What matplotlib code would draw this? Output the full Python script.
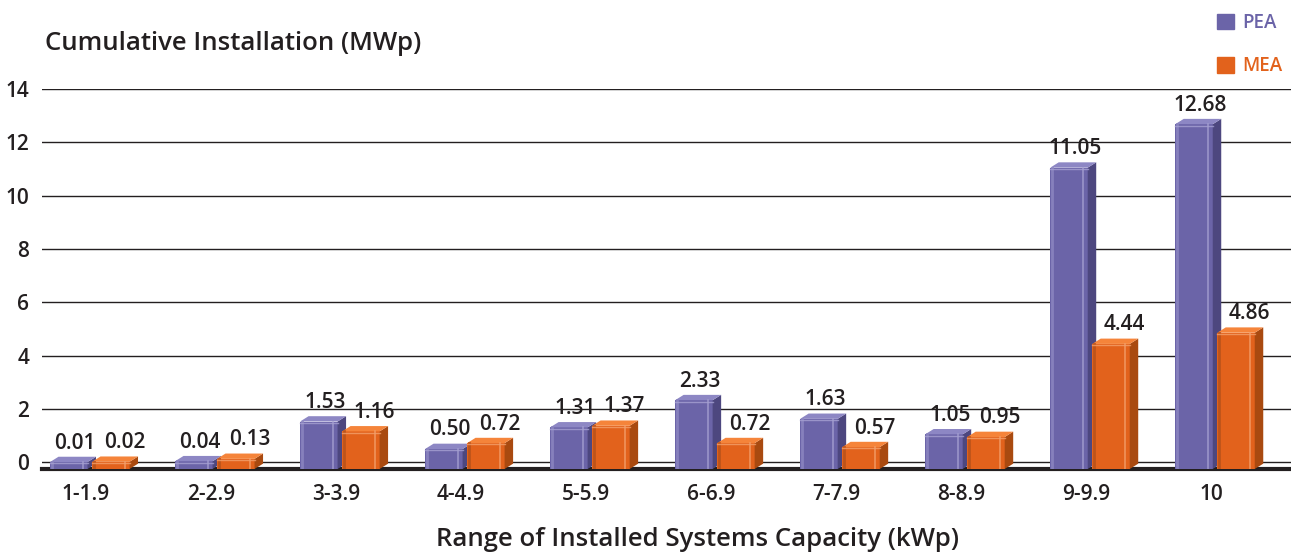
import matplotlib
matplotlib.use("Agg")
import matplotlib.pyplot as plt
from matplotlib.patches import Polygon, Patch
import numpy as np

plt.rcParams['font.family'] = ['Open Sans', 'DejaVu Sans']

# Data
categories = ['1-1.9', '2-2.9', '3-3.9', '4-4.9', '5-5.9',
              '6-6.9', '7-7.9', '8-8.9', '9-9.9', '10']
pea = [0.01, 0.04, 1.53, 0.50, 1.31, 2.33, 1.63, 1.05, 11.05, 12.68]
mea = [0.02, 0.13, 1.16, 0.72, 1.37, 0.72, 0.57, 0.95, 4.44, 4.86]
yticks = [0, 2, 4, 6, 8, 10, 12, 14]

pea_colors = {'front': '#6b64a8', 'side': '#4d477f', 'top': '#8d87c4',
              'hi': '#a6a1d2', 'edge': '#8a84bf'}
mea_colors = {'front': '#e2621c', 'side': '#a94a10', 'top': '#f5843a',
              'hi': '#f3a06c', 'edge': '#b9521a'}
text_color = '#231f20'

base = -0.25
width = 0.30
pea_shift, mea_shift = -0.136, 0.20
dx, dy = 0.068, 0.2


def bar3d(ax, xc, value, c, z):
    left, right = xc - width / 2, xc + width / 2
    ax.bar(xc, value - base, width, bottom=base, color=c['front'],
           linewidth=0, zorder=z)
    # side face
    ax.add_patch(Polygon([(right, base), (right + dx, base + dy),
                          (right + dx, value + dy), (right, value)],
                         closed=True, facecolor=c['side'], lw=0, zorder=z))
    # top face
    ax.add_patch(Polygon([(left, value), (left + dx, value + dy),
                          (right + dx, value + dy), (right, value)],
                         closed=True, facecolor=c['top'], lw=0, zorder=z))
    # bevel highlights on the front face
    ax.plot([left + 0.012, left + 0.012], [base, value], color=c['edge'],
            lw=2.0, alpha=0.9, zorder=z + 0.1)
    ax.plot([right - 0.04, right - 0.04], [base, value], color=c['hi'],
            lw=1.2, alpha=0.8, zorder=z + 0.1)
    ax.plot([left, right], [value - 0.05, value - 0.05], color=c['hi'],
            lw=1.0, alpha=0.8, zorder=z + 0.1)


fig = plt.figure(figsize=(12.91, 5.52), dpi=100)
ax = fig.add_axes([42 / 1291, 83 / 552, 1 - 42 / 1291, 380 / 552])

x = np.arange(len(categories))
for i in x:
    bar3d(ax, i + pea_shift, pea[i], pea_colors, 3)
    bar3d(ax, i + mea_shift, mea[i], mea_colors, 3.5)
    for xc, v in [(i + pea_shift + 0.05, pea[i]), (i + mea_shift + 0.11, mea[i])]:
        ax.text(xc, v + dy + 0.12, f'{v:.2f}',
                ha='center', va='bottom', fontsize=15, fontweight='semibold',
                color=text_color, zorder=5)

ax.set_xlim(-0.35, 9.64)
ax.set_ylim(base, 14)
ax.set_yticks(yticks)
ax.set_xticks(x)
ax.set_xticklabels(categories)
ax.tick_params(axis='both', length=0, labelsize=15, colors=text_color)
ax.tick_params(axis='x', pad=11)
ax.tick_params(axis='y', pad=9)
for lbl in ax.get_xticklabels() + ax.get_yticklabels():
    lbl.set_fontweight('semibold')

ax.grid(axis='y', color=text_color, linewidth=1.0, zorder=0)
for s in ['top', 'right', 'left']:
    ax.spines[s].set_visible(False)
ax.spines['bottom'].set_linewidth(3)
ax.spines['bottom'].set_color(text_color)
ax.spines['bottom'].set_zorder(2)

fig.text(45 / 1291, 1 - 43 / 552, 'Cumulative Installation (MWp)',
         fontsize=18.5, fontweight='semibold', color=text_color, va='center')
fig.text(697 / 1291, 1 - 539 / 552, 'Range of Installed Systems Capacity (kWp)',
         fontsize=18.5, fontweight='semibold', color=text_color,
         ha='center', va='center')

handles = [Patch(color=pea_colors['front']), Patch(color=mea_colors['front'])]
fig.legend(handles, ['PEA', 'MEA'], loc='upper left',
           bbox_to_anchor=(1200 / 1291, 1 + 4 / 552), frameon=False,
           labelspacing=1.25, handlelength=0.9, handleheight=0.9,
           handletextpad=0.45, prop={'size': 13.5, 'weight': 'semibold'},
           labelcolor=[pea_colors['front'], mea_colors['front']])

fig.savefig('out.png', dpi=100)
